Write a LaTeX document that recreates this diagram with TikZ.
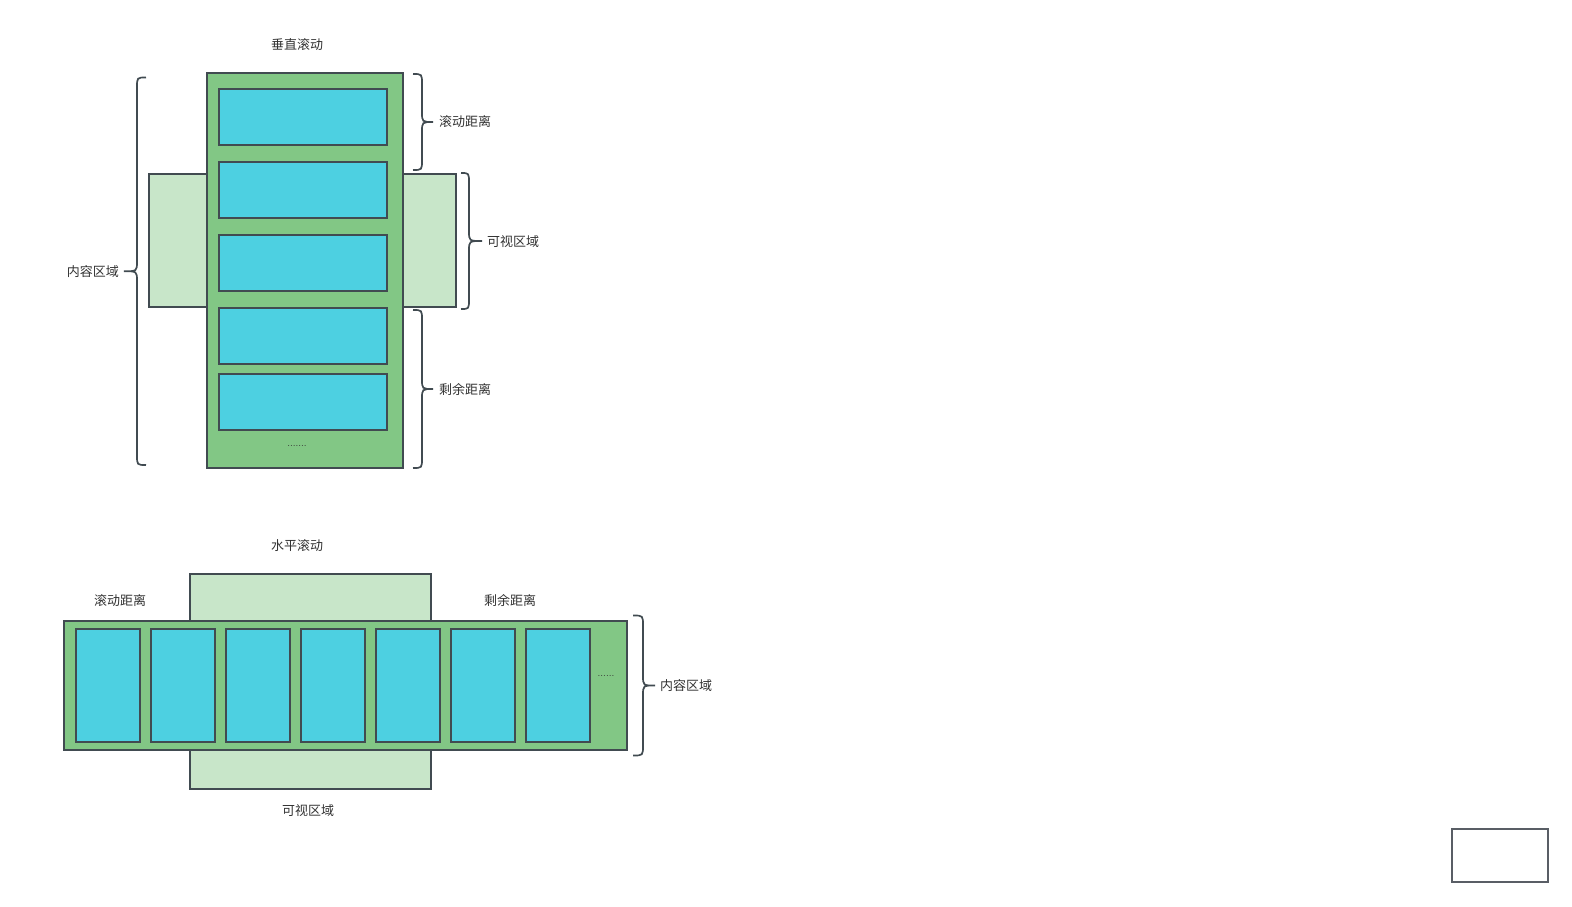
\documentclass[tikz,border=0pt]{standalone}
\usepackage{fontspec}
\newfontfamily\cjk{Noto Sans CJK SC}
\definecolor{darkgreen}{HTML}{82C785}
\definecolor{lightgreen}{HTML}{C8E6C9}
\definecolor{itemblue}{HTML}{4DD0E1}
\definecolor{strokec}{HTML}{414B51}
\definecolor{greyc}{HTML}{595E65}
\definecolor{textc}{HTML}{333333}
\newcommand\RBrace[5]{% xv, xt, xo, y1, y2 ; tip mid
  \draw[bracestyle] (#3,#4) .. controls (#1,#4) .. (#1,#4+10) -- (#1,{(#4+#5)/2-10}) .. controls (#1,{(#4+#5)/2}) .. (#2,{(#4+#5)/2}) .. controls (#1,{(#4+#5)/2}) .. (#1,{(#4+#5)/2+10}) -- (#1,#5-10) .. controls (#1,#5) .. (#3,#5);}
\begin{document}
\begin{tikzpicture}[x=1pt,y=-1pt,
  bracestyle/.style={draw=strokec,line width=1.7pt},
  frame/.style={draw=strokec,line width=2pt,anchor=north west,inner sep=0pt,outer sep=0pt},
  viewbox/.style={frame,fill=lightgreen},
  contentbox/.style={frame,fill=darkgreen},
  itembox/.style={frame,fill=itemblue},
  lbl/.style={font=\cjk\fontsize{13}{15}\selectfont,text=textc,inner sep=0pt},
  dots/.style={font=\fontsize{10}{12}\selectfont,text=textc,inner sep=0pt}]
\useasboundingbox[fill=white] (0,0) rectangle (1572,907);
% ---------- vertical scrolling ----------
\node[lbl] (vtitle) at (297,45) {垂直滚动};
\node[viewbox,minimum width=307pt,minimum height=133pt] (vview) at (149,174) {};
\node[contentbox,minimum width=196pt,minimum height=395pt] (vcontent) at (207,73) {};
\foreach \i/\y in {1/89,2/162,3/235,4/307.5,5/374}{
  \node[itembox,minimum width=168pt,minimum height=56pt] (vitem\i) at (219,\y) {};
}
\node[dots] (vdots) at (297,446) {.......};
\RBrace{137}{124}{146}{77.5}{465}
\node[lbl,anchor=east] (vcontentlbl) at (119,272) {内容区域};
\RBrace{422}{433}{413}{74}{170}
\node[lbl,anchor=west] (vscrolllbl) at (439,122) {滚动距离};
\RBrace{469}{482}{461}{173}{309}
\node[lbl,anchor=west] (vviewlbl) at (487,241.5) {可视区域};
\RBrace{422}{433}{413}{310}{468}
\node[lbl,anchor=west] (vrestlbl) at (439,389.5) {剩余距离};
% ---------- horizontal scrolling ----------
\node[lbl] (htitle) at (297,545.5) {水平滚动};
\node[viewbox,minimum width=241pt,minimum height=215pt] (hview) at (189.5,573.5) {};
\node[contentbox,minimum width=563pt,minimum height=129pt] (hcontent) at (63.5,620.5) {};
\foreach \i in {0,...,6}{
  \node[itembox,minimum width=64pt,minimum height=113pt] (hitem\i) at ({75.5+75*\i},628.5) {};
}
\node[dots] (hdots) at (606,676) {......};
\node[lbl] (hscrolllbl) at (120,600.5) {滚动距离};
\node[lbl] (hrestlbl) at (510,600.5) {剩余距离};
\node[lbl] (hviewlbl) at (308,811) {可视区域};
\RBrace{643}{655}{633}{615.5}{755.5}
\node[lbl,anchor=west] (hcontentlbl) at (660,685.5) {内容区域};
% ---------- empty box ----------
\node[draw=greyc,line width=2pt,anchor=north west,minimum width=96pt,minimum height=53pt,inner sep=0pt] (emptybox) at (1451,828) {};
\end{tikzpicture}
\end{document}
